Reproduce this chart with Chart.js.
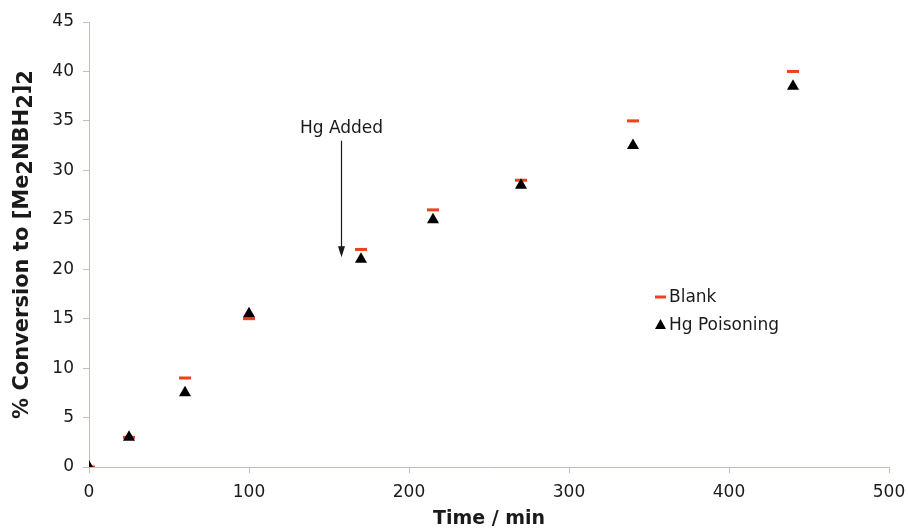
<!DOCTYPE html>
<html>
<head>
<meta charset="utf-8">
<script src="https://cdn.jsdelivr.net/npm/chart.js@4"></script>
<style>
  html, body { margin: 0; padding: 0; background: #ffffff; }
  #wrap { width: 908px; height: 530px; }
</style>
</head>
<body>
<div id="wrap"><canvas id="chart" width="908" height="530"></canvas></div>
<script>
const timeMin = [0, 25, 60, 100, 170, 215, 270, 340, 440];
const blankConv = [0, 3, 9, 15, 22, 26, 29, 35, 40];
const hgConv = [0, 3, 7.5, 15.5, 21, 25, 28.5, 32.5, 38.5];

const seriesNames = ['Blank', 'Hg Poisoning'];
const arrowLabel = 'Hg Added';
const arrowX = 157.5;
const arrowFrom = 33;
const arrowTo = 21.2;
// y title pieces: [text, isSubscript]
const yTitleParts = [['% Conversion to [Me', false], ['2', true], ['NBH', false], ['2', true], [']', false], ['2', true]];

const FONT = '"DejaVu Sans", Verdana, sans-serif';
const RED = '#f0401c';
const AXIS = '#cbbcb6';
const INK = '#1a1a1a';

function toPoints(xs, ys) {
    return xs.map((x, i) => ({ x: x, y: ys[i] }));
}

const overlay = {
    id: 'overlay',
    afterDatasetsDraw(chart) {
        const ctx = chart.ctx;
        const sx = chart.scales.x, sy = chart.scales.y;
        const area = chart.chartArea;
        const ax = Math.round(sx.getPixelForValue(arrowX)) + 0.5;
        const y0 = sy.getPixelForValue(arrowFrom);
        const y1 = sy.getPixelForValue(arrowTo);
        ctx.save();
        // arrow
        ctx.strokeStyle = INK;
        ctx.fillStyle = INK;
        ctx.lineWidth = 1.2;
        ctx.beginPath();
        ctx.moveTo(ax, y0);
        ctx.lineTo(ax, y1 - 8);
        ctx.stroke();
        ctx.beginPath();
        ctx.moveTo(ax, y1);
        ctx.lineTo(ax - 3.5, y1 - 11);
        ctx.lineTo(ax + 3.5, y1 - 11);
        ctx.closePath();
        ctx.fill();
        ctx.font = '17px ' + FONT;
        ctx.textAlign = 'center';
        ctx.textBaseline = 'alphabetic';
        ctx.fillText(arrowLabel, ax, y0 - 8);

        // legend
        const lx = 655, ly1 = 297, ly2 = 325;
        ctx.strokeStyle = RED;
        ctx.lineWidth = 3;
        ctx.beginPath();
        ctx.moveTo(lx, ly1);
        ctx.lineTo(lx + 11, ly1);
        ctx.stroke();
        ctx.fillStyle = '#000000';
        ctx.beginPath();
        ctx.moveTo(lx + 5.5, ly2 - 6);
        ctx.lineTo(lx + 11, ly2 + 4);
        ctx.lineTo(lx, ly2 + 4);
        ctx.closePath();
        ctx.fill();
        ctx.fillStyle = INK;
        ctx.textAlign = 'left';
        ctx.textBaseline = 'middle';
        ctx.fillText(seriesNames[0], lx + 14, ly1 + 1);
        ctx.fillText(seriesNames[1], lx + 14, ly2 + 1);

        // y axis title with subscripts
        ctx.font = 'bold 21px ' + FONT;
        ctx.textBaseline = 'alphabetic';
        ctx.textAlign = 'left';
        let total = 0;
        yTitleParts.forEach(p => { total += ctx.measureText(p[0]).width; });
        ctx.translate(28, (area.top + area.bottom) / 2);
        ctx.rotate(-Math.PI / 2);
        let cx = -total / 2;
        yTitleParts.forEach(p => {
            ctx.fillText(p[0], cx, p[1] ? 4 : 0);
            cx += ctx.measureText(p[0]).width;
        });
        ctx.restore();
    }
};

new Chart(document.getElementById('chart'), {
    type: 'scatter',
    data: {
        datasets: [
            {
                label: seriesNames[0],
                data: toPoints(timeMin, blankConv),
                pointStyle: 'line',
                pointRadius: 6,
                pointHoverRadius: 6,
                borderWidth: 3,
                pointBorderWidth: 3,
                borderColor: RED,
                backgroundColor: RED,
                order: 2
            },
            {
                label: seriesNames[1],
                data: toPoints(timeMin, hgConv),
                pointStyle: 'triangle',
                pointRadius: 7,
                pointHoverRadius: 7,
                borderWidth: 0,
                pointBorderWidth: 0,
                borderColor: '#000000',
                backgroundColor: '#000000',
                order: 1
            }
        ]
    },
    options: {
        responsive: false,
        animation: false,
        layout: { padding: { top: 22, right: 19, left: 0, bottom: 0 } },
        plugins: {
            legend: { display: false },
            tooltip: { enabled: false }
        },
        scales: {
            x: {
                type: 'linear',
                min: 0,
                max: 500,
                afterFit(scale) {
                    scale.height = 63;
                    scale.paddingRight = 0;
                    scale.paddingLeft = 0;
                },
                ticks: {
                    stepSize: 100,
                    color: INK,
                    padding: 9,
                    font: { family: FONT, size: 17 }
                },
                grid: { display: true, drawOnChartArea: false, tickLength: 6, color: AXIS },
                border: { color: AXIS, width: 1 },
                title: {
                    display: true,
                    text: 'Time / min',
                    color: INK,
                    padding: { top: 0, bottom: 0 },
                    font: { family: FONT, size: 19, weight: 'bold' }
                }
            },
            y: {
                type: 'linear',
                min: 0,
                max: 45,
                afterFit(scale) { scale.width = 89; },
                ticks: {
                    stepSize: 5,
                    color: INK,
                    padding: 9,
                    font: { family: FONT, size: 17 }
                },
                grid: { display: true, drawOnChartArea: false, tickLength: 6, color: AXIS },
                border: { color: AXIS, width: 1 },
                title: { display: false }
            }
        }
    },
    plugins: [overlay]
});
</script>
</body>
</html>
